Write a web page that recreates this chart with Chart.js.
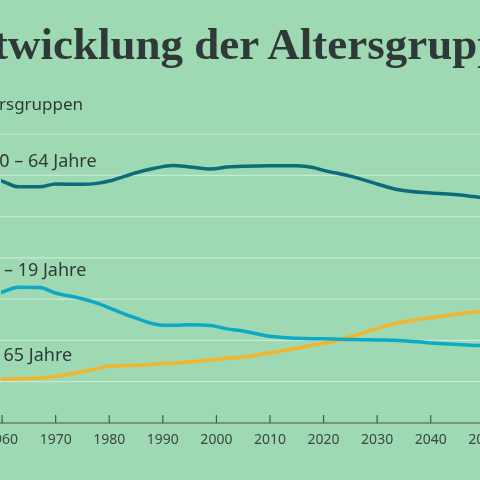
<!DOCTYPE html>
<html><head><meta charset="utf-8">
<script src="https://cdn.jsdelivr.net/npm/chart.js@4"></script>
<style>
html,body{margin:0;padding:0;width:480px;height:480px;overflow:hidden;background:#9ed9b4;}
#wrap{position:relative;width:480px;height:480px;}
canvas{position:absolute;left:0;top:0;}
.t{position:absolute;white-space:nowrap;color:#2f3a38;}
#title{font-family:"Liberation Serif",serif;font-weight:bold;font-size:45px;top:18px;left:-62px;}
#sub{font-family:"Noto Sans",sans-serif;font-size:17px;top:92px;left:-32px;}
.lab{font-family:"Noto Sans",sans-serif;font-size:18px;}
</style></head><body>
<div id="wrap">
<canvas id="c" width="480" height="480"></canvas>
<div id="title" class="t">Entwicklung der Altersgruppen</div>
<div id="sub" class="t">Altersgruppen</div>
<div class="t lab" style="top:148px;left:-11px">20 – 64 Jahre</div>
<div class="t lab" style="top:257px;left:-11px">0 – 19 Jahre</div>
<div class="t lab" style="top:342px;left:-43px">Über 65 Jahre</div>
</div>
<script>
const years=[1958,1960,1963,1967,1970,1975,1978,1980,1983,1985,1988,1990,1992,1995,1999,2002,2005,2010,2015,2018,2020,2025,2030,2034,2040,2045,2050];
const age20_64=[59.2,58.6,57.2,57.2,57.9,57.8,58.1,58.6,59.8,60.6,61.6,62.1,62.4,62.0,61.5,62.0,62.2,62.3,62.3,61.9,61.2,59.8,57.9,56.5,55.7,55.3,54.5];
const age0_19=[31.2,31.7,32.9,32.8,31.5,30.1,28.9,27.9,26.3,25.4,24.1,23.7,23.7,23.8,23.6,22.8,22.3,21.0,20.5,20.4,20.4,20.2,20.1,20.0,19.4,19.0,18.7];
const age65=[10.5,10.6,10.7,10.9,11.3,12.4,13.3,13.8,13.9,14.0,14.2,14.4,14.5,14.8,15.3,15.7,16.0,17.0,18.1,18.9,19.3,20.9,22.9,24.3,25.5,26.4,27.1];
const tickYears=[1960,1970,1980,1990,2000,2010,2020,2030,2040,2050];
const gridVals=[10,20,30,40,50,60,70];
const mk=(d,c)=>({data:years.map((y,i)=>({x:y,y:d[i]})),borderColor:c,borderWidth:3.5,pointRadius:0,cubicInterpolationMode:'monotone',fill:false});
const deco={id:'deco',beforeDatasetsDraw(ch){const c=ch.ctx,xs=ch.scales.x,ys=ch.scales.y;c.save();
c.strokeStyle='#c4ebd3';c.lineWidth=1.2;
gridVals.forEach(v=>{const p=ys.getPixelForValue(v);c.beginPath();c.moveTo(0,p);c.lineTo(480,p);c.stroke();});
const b=ys.getPixelForValue(0);c.strokeStyle='#4a5553';c.lineWidth=1.2;c.beginPath();c.moveTo(0,b);c.lineTo(480,b);c.stroke();
c.fillStyle='#3c4644';c.font='14px "Noto Sans", sans-serif';c.textAlign='center';c.textBaseline='alphabetic';
tickYears.forEach(t=>{const p=xs.getPixelForValue(t);c.beginPath();c.moveTo(p,b);c.lineTo(p,b-8);c.stroke();c.fillText(String(t),p,b+21);});
c.restore();}};
new Chart(document.getElementById('c'),{type:'line',data:{datasets:[mk(age20_64,'#0d6c7a'),mk(age0_19,'#0fa9c6'),mk(age65,'#f2b42c')]},
options:{responsive:false,animation:false,layout:{padding:{left:1,right:0,top:134,bottom:57}},
plugins:{legend:{display:false},tooltip:{enabled:false}},
scales:{x:{type:'linear',min:1959.8,max:2049.2,display:false},y:{min:0,max:70,display:false}}},plugins:[deco]});
</script></body></html>
